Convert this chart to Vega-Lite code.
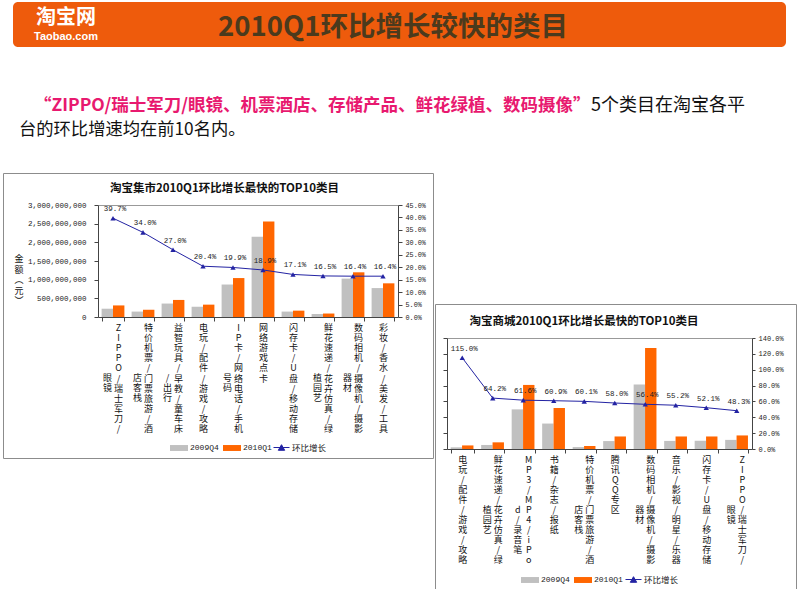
{
 "$schema": "https://vega.github.io/schema/vega-lite/v6.json",
 "padding": {"left": 2, "top": 2, "right": 0, "bottom": 0},
 "background": "white",
 "spacing": 0,
 "config": {
  "view": {"stroke": null},
  "font": "Noto Sans CJK SC",
  "text": {"font": "Noto Sans CJK SC"},
  "axis": {"grid": false}
 },
 "datasets": {
  "L": [
   {"c": "ZIPPO/瑞士军刀/眼镜", "s": "2009Q4", "v": 222000000},
   {"c": "ZIPPO/瑞士军刀/眼镜", "s": "2010Q1", "v": 310000000},
   {"c": "特价机票/门票旅游/酒店客栈", "s": "2009Q4", "v": 145000000},
   {"c": "特价机票/门票旅游/酒店客栈", "s": "2010Q1", "v": 194000000},
   {"c": "益智玩具/早教/童车床/出行", "s": "2009Q4", "v": 360000000},
   {"c": "益智玩具/早教/童车床/出行", "s": "2010Q1", "v": 457000000},
   {"c": "电玩/配件/游戏/攻略", "s": "2009Q4", "v": 275000000},
   {"c": "电玩/配件/游戏/攻略", "s": "2010Q1", "v": 331000000},
   {"c": "IP卡/网络电话/手机号码", "s": "2009Q4", "v": 870000000},
   {"c": "IP卡/网络电话/手机号码", "s": "2010Q1", "v": 1043000000},
   {"c": "网络游戏点卡", "s": "2009Q4", "v": 2150000000},
   {"c": "网络游戏点卡", "s": "2010Q1", "v": 2556000000},
   {"c": "闪存卡/U盘/移动存储", "s": "2009Q4", "v": 145000000},
   {"c": "闪存卡/U盘/移动存储", "s": "2010Q1", "v": 170000000},
   {"c": "鲜花速递/花卉仿真/绿植园艺", "s": "2009Q4", "v": 80000000},
   {"c": "鲜花速递/花卉仿真/绿植园艺", "s": "2010Q1", "v": 93000000},
   {"c": "数码相机/摄像机/摄影器材", "s": "2009Q4", "v": 1028000000},
   {"c": "数码相机/摄像机/摄影器材", "s": "2010Q1", "v": 1197000000},
   {"c": "彩妆/香水/美发/工具", "s": "2009Q4", "v": 775000000},
   {"c": "彩妆/香水/美发/工具", "s": "2010Q1", "v": 902000000}
  ],
  "LG": [
   {"c": "ZIPPO/瑞士军刀/眼镜", "g": 0.397},
   {"c": "特价机票/门票旅游/酒店客栈", "g": 0.34},
   {"c": "益智玩具/早教/童车床/出行", "g": 0.27},
   {"c": "电玩/配件/游戏/攻略", "g": 0.204},
   {"c": "IP卡/网络电话/手机号码", "g": 0.199},
   {"c": "网络游戏点卡", "g": 0.189},
   {"c": "闪存卡/U盘/移动存储", "g": 0.171},
   {"c": "鲜花速递/花卉仿真/绿植园艺", "g": 0.165},
   {"c": "数码相机/摄像机/摄影器材", "g": 0.164},
   {"c": "彩妆/香水/美发/工具", "g": 0.164}
  ],
  "R": [
   {"c": "电玩/配件/游戏/攻略", "s": "2009Q4", "v": 10500000},
   {"c": "电玩/配件/游戏/攻略", "s": "2010Q1", "v": 22500000},
   {"c": "鲜花速递/花卉仿真/绿植园艺", "s": "2009Q4", "v": 25500000},
   {"c": "鲜花速递/花卉仿真/绿植园艺", "s": "2010Q1", "v": 42000000},
   {"c": "MP3/MP4/iPod/录音笔", "s": "2009Q4", "v": 250000000},
   {"c": "MP3/MP4/iPod/录音笔", "s": "2010Q1", "v": 404000000},
   {"c": "书籍/杂志/报纸", "s": "2009Q4", "v": 160500000},
   {"c": "书籍/杂志/报纸", "s": "2010Q1", "v": 258000000},
   {"c": "特价机票/门票旅游/酒店客栈", "s": "2009Q4", "v": 12000000},
   {"c": "特价机票/门票旅游/酒店客栈", "s": "2010Q1", "v": 19000000},
   {"c": "腾讯QQ专区", "s": "2009Q4", "v": 50000000},
   {"c": "腾讯QQ专区", "s": "2010Q1", "v": 79000000},
   {"c": "数码相机/摄像机/摄影器材", "s": "2009Q4", "v": 407500000},
   {"c": "数码相机/摄像机/摄影器材", "s": "2010Q1", "v": 637500000},
   {"c": "音乐/影视/明星/乐器", "s": "2009Q4", "v": 51000000},
   {"c": "音乐/影视/明星/乐器", "s": "2010Q1", "v": 79000000},
   {"c": "闪存卡/U盘/移动存储", "s": "2009Q4", "v": 52000000},
   {"c": "闪存卡/U盘/移动存储", "s": "2010Q1", "v": 79000000},
   {"c": "ZIPPO/瑞士军刀/眼镜", "s": "2009Q4", "v": 57500000},
   {"c": "ZIPPO/瑞士军刀/眼镜", "s": "2010Q1", "v": 85500000}
  ],
  "RG": [
   {"c": "电玩/配件/游戏/攻略", "g": 1.15},
   {"c": "鲜花速递/花卉仿真/绿植园艺", "g": 0.642},
   {"c": "MP3/MP4/iPod/录音笔", "g": 0.616},
   {"c": "书籍/杂志/报纸", "g": 0.609},
   {"c": "特价机票/门票旅游/酒店客栈", "g": 0.601},
   {"c": "腾讯QQ专区", "g": 0.58},
   {"c": "数码相机/摄像机/摄影器材", "g": 0.564},
   {"c": "音乐/影视/明星/乐器", "g": 0.552},
   {"c": "闪存卡/U盘/移动存储", "g": 0.521},
   {"c": "ZIPPO/瑞士军刀/眼镜", "g": 0.483}
  ]
 },
 "vconcat": [
  {
   "spacing": 0,
   "hconcat": [
    {"width": 10, "height": 45, "data": {"values": [{"t": ""}]}, "mark": {"type": "text"}, "encoding": {"text": {"field": "t", "type": "nominal"}}},
    {
     "width": 773, "height": 45,
     "view": {"fill": "#ee5b0c", "stroke": null, "cornerRadius": 5},
     "layer": [
      {"data": {"values": [{"t": "2010Q1环比增长较快的类目"}]},
       "mark": {"type": "text", "fontSize": 27.5, "fontWeight": "bold", "color": "#4b3a1d", "align": "center", "baseline": "middle", "dx": -6.5, "dy": 3.5},
       "encoding": {"text": {"field": "t", "type": "nominal"}}},
      {"data": {"values": [{"t": "淘宝网"}]},
       "mark": {"type": "text", "fontSize": 20, "fontWeight": "bold", "color": "white", "align": "center", "baseline": "middle", "dx": -333.5, "dy": -7},
       "encoding": {"text": {"field": "t", "type": "nominal"}}},
      {"data": {"values": [{"t": "Taobao.com"}]},
       "mark": {"type": "text", "font": "Liberation Sans", "fontSize": 11, "fontWeight": "bold", "color": "white", "align": "center", "baseline": "middle", "dx": -333.5, "dy": 12.5},
       "encoding": {"text": {"field": "t", "type": "nominal"}}}
     ]
    }
   ]
  },
  {
   "width": 796, "height": 125,
   "layer": [
    {"data": {"values": [{"t": "“ZIPPO/瑞士军刀/眼镜、机票酒店、存储产品、鲜花绿植、数码摄像”"}]},
     "mark": {"type": "text", "fontSize": 17.5, "fontWeight": "bold", "color": "#e8196f", "align": "left", "baseline": "middle", "dx": -367, "dy": -3.5},
     "encoding": {"text": {"field": "t", "type": "nominal"}}},
    {"data": {"values": [{"t": "5个类目在淘宝各平"}]},
     "mark": {"type": "text", "fontSize": 18, "color": "#111111", "align": "left", "baseline": "middle", "dx": 190, "dy": -3.5},
     "encoding": {"text": {"field": "t", "type": "nominal"}}},
    {"data": {"values": [{"t": "台的环比增速均在前10名内。"}]},
     "mark": {"type": "text", "fontSize": 17.3, "color": "#111111", "align": "left", "baseline": "middle", "dx": -382, "dy": 20.5},
     "encoding": {"text": {"field": "t", "type": "nominal"}}}
   ]
  },
  {
   "spacing": 0,
   "resolve": {"scale": {"fill": "independent", "stroke": "independent"}},
   "hconcat": [
    {
     "width": 430, "height": 285,
     "view": {"stroke": "#8c8c8c", "fill": "white"},
     "resolve": {"scale": {"y": "independent"}, "axis": {"x": "independent"}},
     "layer": [
      {
       "data": {"name": "L"},
       "mark": {"type": "bar"},
       "encoding": {
        "x": {"field": "c", "type": "nominal",
         "scale": {"domain": ["ZIPPO/瑞士军刀/眼镜","特价机票/门票旅游/酒店客栈","益智玩具/早教/童车床/出行","电玩/配件/游戏/攻略","IP卡/网络电话/手机号码","网络游戏点卡","闪存卡/U盘/移动存储","鲜花速递/花卉仿真/绿植园艺","数码相机/摄像机/摄影器材","彩妆/香水/美发/工具"], "range": [95, 395], "paddingInner": 0.24, "paddingOuter": 0.12},
         "axis": {"orient": "bottom", "offset": -141, "title": null, "domain": true, "domainColor": "#444444", "ticks": true, "tickColor": "#444444", "tickSize": 4, "tickBand": "extent", "labelAngle": 0, "labelAlign": "center", "labelBaseline": "top", "labelPadding": 2, "labelFont": "Noto Sans CJK SC", "labelFontSize": 9, "labelLineHeight": 10.2, "labelColor": "#111111", "labelOverlap": false, "labelBound": false, "labelFlush": false, "labelLimit": 0, "labelExpr": "length(datum.label) <= 11 ? split(datum.label, '') : ''"}},
        "xOffset": {"field": "s", "type": "nominal", "scale": {"domain": ["2009Q4", "2010Q1"], "paddingInner": 0}},
        "y": {"field": "v", "type": "quantitative",
         "scale": {"domain": [0, 3000000000], "range": [144, 32], "nice": false},
         "axis": {"orient": "left", "offset": -95, "title": null, "values": [0, 500000000, 1000000000, 1500000000, 2000000000, 2500000000, 3000000000], "format": ",.0f", "domainColor": "#444444", "tickColor": "#444444", "tickSize": 4, "labelPadding": 8, "labelFont": "Liberation Mono", "labelFontSize": 7.5, "labelColor": "#222222"}},
        "fill": {"field": "s", "type": "nominal",
         "scale": {"domain": ["2009Q4", "2010Q1"], "range": ["#c0c0c0", "#ff6600"]},
         "legend": {"orient": "none", "legendX": 167, "legendY": 266, "direction": "horizontal", "title": null, "symbolType": "M-1,-0.33H1V0.33H-1Z", "symbolSize": 324, "symbolStrokeWidth": 0, "labelFont": "Liberation Mono", "labelFontSize": 8, "labelColor": "#222222", "labelOffset": 2, "columnPadding": 4, "padding": 0}}
       }
      },
      {
       "data": {"name": "LG"},
       "mark": {"type": "line", "strokeWidth": 1, "color": "#2323a3"},
       "encoding": {
        "x": {"field": "c", "type": "nominal",
         "scale": {"domain": ["ZIPPO/瑞士军刀/眼镜","特价机票/门票旅游/酒店客栈","益智玩具/早教/童车床/出行","电玩/配件/游戏/攻略","IP卡/网络电话/手机号码","网络游戏点卡","闪存卡/U盘/移动存储","鲜花速递/花卉仿真/绿植园艺","数码相机/摄像机/摄影器材","彩妆/香水/美发/工具"], "range": [95, 395], "paddingInner": 0.24, "paddingOuter": 0.12},
         "axis": {"orient": "bottom", "offset": -141, "title": null, "domain": false, "ticks": false, "tickSize": 0, "labelAngle": 0, "labelAlign": "center", "labelBaseline": "middle", "labelPadding": 60, "labelOffset": -5.5, "labelFont": "Noto Sans CJK SC", "labelFontSize": 9, "labelLineHeight": 10.2, "labelColor": "#111111", "labelOverlap": false, "labelBound": false, "labelFlush": false, "labelLimit": 0, "labelExpr": "length(datum.label) > 11 ? split(substring(datum.label, 11), '') : ''"}},
        "y": {"field": "g", "type": "quantitative",
         "scale": {"domain": [0, 0.45], "range": [144, 32], "nice": false},
         "axis": {"orient": "right", "offset": -35, "title": null, "values": [0, 0.05, 0.1, 0.15, 0.2, 0.25, 0.3, 0.35, 0.4, 0.45], "format": ".1%", "domainColor": "#444444", "tickColor": "#444444", "tickSize": 4, "labelPadding": 3, "labelFont": "Liberation Mono", "labelFontSize": 6.8, "labelColor": "#222222"}},
        "stroke": {"datum": "环比增长", "type": "nominal", "scale": {"range": ["#2323a3"]},
          "legend": {"orient": "none", "legendX": 270, "legendY": 266, "title": null, "symbolType": "M-1,0H1M-0.4,0.35L0,-0.35L0.4,0.35Z", "symbolSize": 256, "symbolStrokeWidth": 1, "symbolFillColor": "#2323a3", "labelFont": "Noto Sans CJK SC", "labelFontSize": 8.5, "labelColor": "#222222", "labelOffset": 2, "padding": 0}}
       }
      },
      {
       "data": {"name": "LG"},
       "mark": {"type": "point", "shape": "triangle-up", "size": 28, "filled": true, "color": "#2323a3", "opacity": 1},
       "encoding": {
        "x": {"field": "c", "type": "nominal",
         "scale": {"domain": ["ZIPPO/瑞士军刀/眼镜","特价机票/门票旅游/酒店客栈","益智玩具/早教/童车床/出行","电玩/配件/游戏/攻略","IP卡/网络电话/手机号码","网络游戏点卡","闪存卡/U盘/移动存储","鲜花速递/花卉仿真/绿植园艺","数码相机/摄像机/摄影器材","彩妆/香水/美发/工具"], "range": [95, 395], "paddingInner": 0.24, "paddingOuter": 0.12},
         "axis": {"orient": "bottom", "offset": -141, "title": null, "domain": false, "ticks": false, "tickSize": 0, "labelAngle": 0, "labelAlign": "center", "labelBaseline": "top", "labelPadding": 6, "labelOffset": 5.5, "labelFont": "Noto Sans CJK SC", "labelFontSize": 9, "labelLineHeight": 10.2, "labelColor": "#111111", "labelOverlap": false, "labelBound": false, "labelFlush": false, "labelLimit": 0, "labelExpr": "length(datum.label) > 11 ? split(substring(datum.label, 0, 11), '') : ''"}},
        "y": {"field": "g", "type": "quantitative", "scale": {"domain": [0, 0.45], "range": [144, 32], "nice": false}, "axis": null}
       }
      },
      {
       "data": {"name": "LG"},
       "mark": {"type": "text", "font": "Liberation Mono", "fontSize": 7.5, "color": "#222222", "dy": -9, "dx": 2},
       "encoding": {
        "x": {"field": "c", "type": "nominal",
         "scale": {"domain": ["ZIPPO/瑞士军刀/眼镜","特价机票/门票旅游/酒店客栈","益智玩具/早教/童车床/出行","电玩/配件/游戏/攻略","IP卡/网络电话/手机号码","网络游戏点卡","闪存卡/U盘/移动存储","鲜花速递/花卉仿真/绿植园艺","数码相机/摄像机/摄影器材","彩妆/香水/美发/工具"], "range": [95, 395], "paddingInner": 0.24, "paddingOuter": 0.12},
         "axis": {"orient": "top", "offset": -32, "title": null, "domain": true, "domainColor": "#999999", "ticks": false, "labels": false}},
        "y": {"field": "g", "type": "quantitative", "scale": {"domain": [0, 0.45], "range": [144, 32], "nice": false}, "axis": null},
        "text": {"field": "g", "type": "quantitative", "format": ".1%"}
       }
      },
      {"data": {"values": [{"t": "淘宝集市2010Q1环比增长最快的TOP10类目"}]},
       "mark": {"type": "text", "fontSize": 11.5, "fontWeight": "bold", "color": "#111111", "align": "center", "baseline": "middle", "dx": 6.5, "dy": -126.5},
       "encoding": {"text": {"field": "t", "type": "nominal"}}},
      {"data": {"values": [{"t": "金额︵元︶"}]},
       "mark": {"type": "text", "text": ["金", "额", "︵", "元", "︶"], "fontSize": 9, "lineHeight": 10.5, "color": "#111111", "align": "center", "baseline": "middle", "dx": -199, "dy": -56.5}}
     ]
    },
    {
     "spacing": 0,
     "resolve": {"scale": {"fill": "independent", "stroke": "independent"}},
     "vconcat": [
      {"width": 361, "height": 130, "data": {"values": [{"t": ""}]}, "mark": {"type": "text"}, "encoding": {"text": {"field": "t", "type": "nominal"}}},
      {
       "width": 361, "height": 287,
       "view": {"stroke": "#8c8c8c", "fill": "white"},
       "resolve": {"scale": {"y": "independent"}, "axis": {"x": "independent"}},
       "layer": [
        {
         "data": {"name": "R"},
         "mark": {"type": "bar"},
         "encoding": {
          "x": {"field": "c", "type": "nominal",
           "scale": {"domain": ["电玩/配件/游戏/攻略","鲜花速递/花卉仿真/绿植园艺","MP3/MP4/iPod/录音笔","书籍/杂志/报纸","特价机票/门票旅游/酒店客栈","腾讯QQ专区","数码相机/摄像机/摄影器材","音乐/影视/明星/乐器","闪存卡/U盘/移动存储","ZIPPO/瑞士军刀/眼镜"], "range": [12, 317], "paddingInner": 0.24, "paddingOuter": 0.12},
           "axis": {"orient": "bottom", "offset": -142, "title": null, "domain": true, "domainColor": "#444444", "ticks": true, "tickColor": "#444444", "tickSize": 4, "tickBand": "extent", "labelAngle": 0, "labelAlign": "center", "labelBaseline": "top", "labelPadding": 2, "labelFont": "Noto Sans CJK SC", "labelFontSize": 9, "labelLineHeight": 10.1, "labelColor": "#111111", "labelOverlap": false, "labelBound": false, "labelFlush": false, "labelLimit": 0, "labelExpr": "length(datum.label) <= 11 ? split(datum.label, '') : ''"}},
          "xOffset": {"field": "s", "type": "nominal", "scale": {"domain": ["2009Q4", "2010Q1"], "paddingInner": 0}},
          "y": {"field": "v", "type": "quantitative",
           "scale": {"domain": [0, 700000000], "range": [145, 34], "nice": false},
           "axis": {"orient": "left", "offset": -12, "title": null, "labels": false, "values": [0, 100000000, 200000000, 300000000, 400000000, 500000000, 600000000, 700000000], "domainColor": "#444444", "tickColor": "#444444", "tickSize": 4}},
          "fill": {"field": "s", "type": "nominal",
           "scale": {"domain": ["2009Q4", "2010Q1"], "range": ["#c0c0c0", "#ff6600"]},
           "legend": {"orient": "none", "legendX": 86, "legendY": 267, "direction": "horizontal", "title": null, "symbolType": "M-1,-0.33H1V0.33H-1Z", "symbolSize": 324, "symbolStrokeWidth": 0, "labelFont": "Liberation Mono", "labelFontSize": 8, "labelColor": "#222222", "labelOffset": 2, "columnPadding": 4, "padding": 0}}
         }
        },
        {
         "data": {"name": "RG"},
         "mark": {"type": "line", "strokeWidth": 1, "color": "#2323a3"},
         "encoding": {
          "x": {"field": "c", "type": "nominal",
           "scale": {"domain": ["电玩/配件/游戏/攻略","鲜花速递/花卉仿真/绿植园艺","MP3/MP4/iPod/录音笔","书籍/杂志/报纸","特价机票/门票旅游/酒店客栈","腾讯QQ专区","数码相机/摄像机/摄影器材","音乐/影视/明星/乐器","闪存卡/U盘/移动存储","ZIPPO/瑞士军刀/眼镜"], "range": [12, 317], "paddingInner": 0.24, "paddingOuter": 0.12},
           "axis": {"orient": "bottom", "offset": -142, "title": null, "domain": false, "ticks": false, "tickSize": 0, "labelAngle": 0, "labelAlign": "center", "labelBaseline": "middle", "labelPadding": 60, "labelOffset": -5.5, "labelFont": "Noto Sans CJK SC", "labelFontSize": 9, "labelLineHeight": 10.1, "labelColor": "#111111", "labelOverlap": false, "labelBound": false, "labelFlush": false, "labelLimit": 0, "labelExpr": "length(datum.label) > 11 ? split(substring(datum.label, 11), '') : ''"}},
          "y": {"field": "g", "type": "quantitative",
           "scale": {"domain": [0, 1.4], "range": [145, 34], "nice": false},
           "axis": {"orient": "right", "offset": -44, "title": null, "values": [0, 0.2, 0.4, 0.6, 0.8, 1.0, 1.2, 1.4], "format": ".1%", "domainColor": "#444444", "tickColor": "#444444", "tickSize": 3, "labelPadding": 3, "labelFont": "Liberation Mono", "labelFontSize": 7, "labelColor": "#222222"}},
          "stroke": {"datum": "环比增长", "type": "nominal", "scale": {"range": ["#2323a3"]},
            "legend": {"orient": "none", "legendX": 190, "legendY": 267, "title": null, "symbolType": "M-1,0H1M-0.4,0.35L0,-0.35L0.4,0.35Z", "symbolSize": 256, "symbolStrokeWidth": 1, "symbolFillColor": "#2323a3", "labelFont": "Noto Sans CJK SC", "labelFontSize": 8.5, "labelColor": "#222222", "labelOffset": 2, "padding": 0}}
         }
        },
        {
         "data": {"name": "RG"},
         "mark": {"type": "point", "shape": "triangle-up", "size": 28, "filled": true, "color": "#2323a3", "opacity": 1},
         "encoding": {
          "x": {"field": "c", "type": "nominal",
           "scale": {"domain": ["电玩/配件/游戏/攻略","鲜花速递/花卉仿真/绿植园艺","MP3/MP4/iPod/录音笔","书籍/杂志/报纸","特价机票/门票旅游/酒店客栈","腾讯QQ专区","数码相机/摄像机/摄影器材","音乐/影视/明星/乐器","闪存卡/U盘/移动存储","ZIPPO/瑞士军刀/眼镜"], "range": [12, 317], "paddingInner": 0.24, "paddingOuter": 0.12},
           "axis": {"orient": "bottom", "offset": -142, "title": null, "domain": false, "ticks": false, "tickSize": 0, "labelAngle": 0, "labelAlign": "center", "labelBaseline": "top", "labelPadding": 6, "labelOffset": 5.5, "labelFont": "Noto Sans CJK SC", "labelFontSize": 9, "labelLineHeight": 10.1, "labelColor": "#111111", "labelOverlap": false, "labelBound": false, "labelFlush": false, "labelLimit": 0, "labelExpr": "length(datum.label) > 11 ? split(substring(datum.label, 0, 11), '') : ''"}},
          "y": {"field": "g", "type": "quantitative", "scale": {"domain": [0, 1.4], "range": [145, 34], "nice": false}, "axis": null}
         }
        },
        {
         "data": {"name": "RG"},
         "mark": {"type": "text", "font": "Liberation Mono", "fontSize": 7.5, "color": "#222222", "dy": -9, "dx": 2},
         "encoding": {
          "x": {"field": "c", "type": "nominal",
           "scale": {"domain": ["电玩/配件/游戏/攻略","鲜花速递/花卉仿真/绿植园艺","MP3/MP4/iPod/录音笔","书籍/杂志/报纸","特价机票/门票旅游/酒店客栈","腾讯QQ专区","数码相机/摄像机/摄影器材","音乐/影视/明星/乐器","闪存卡/U盘/移动存储","ZIPPO/瑞士军刀/眼镜"], "range": [12, 317], "paddingInner": 0.24, "paddingOuter": 0.12},
           "axis": {"orient": "top", "offset": -34, "title": null, "domain": true, "domainColor": "#999999", "ticks": false, "labels": false}},
          "y": {"field": "g", "type": "quantitative", "scale": {"domain": [0, 1.4], "range": [145, 34], "nice": false}, "axis": null},
          "text": {"field": "g", "type": "quantitative", "format": ".1%"}
         }
        },
        {"data": {"values": [{"t": "淘宝商城2010Q1环比增长最快的TOP10类目"}]},
         "mark": {"type": "text", "fontSize": 11.5, "fontWeight": "bold", "color": "#111111", "align": "center", "baseline": "middle", "dx": -31.5, "dy": -125.5},
         "encoding": {"text": {"field": "t", "type": "nominal"}}}
       ]
      }
     ]
    }
   ]
  }
 ]
}
